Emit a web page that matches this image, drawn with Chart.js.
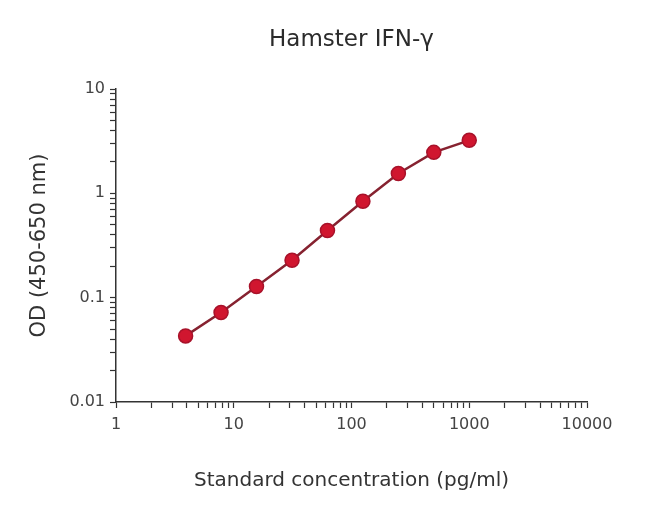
<!DOCTYPE html>
<html>
<head>
<meta charset="utf-8">
<script src="https://cdn.jsdelivr.net/npm/chart.js@4.4.1/dist/chart.umd.min.js"></script>
<style>
  body { margin: 0; background: #fff; }
  #wrap { width: 650px; height: 517px; }
</style>
</head>
<body>
<div id="wrap"><canvas id="chart" width="650" height="517"></canvas></div>
<script>
// standard curve values
const concentrations = [3.9, 7.8, 15.6, 31.25, 62.5, 125, 250, 500, 1000];
const odValues = [0.043, 0.072, 0.128, 0.228, 0.44, 0.84, 1.55, 2.47, 3.22];

const xTickLabels = [1, 10, 100, 1000, 10000];
const yTickLabels = [0.01, 0.1, 1, 10];
const minorSteps = [2, 3, 4, 5, 6, 7, 8, 9];

// decade ticks + minor ticks in between
const buildTicks = (majors) => {
    let out = [];
    majors.forEach((m, i) => {
        out.push({value: m, major: true});
        if (i < majors.length - 1) {
            minorSteps.forEach(s => out.push({value: m * s, major: false}));
        }
    });
    return out;
};

const fontFam = "'DejaVu Sans', sans-serif";
const inkColor = '#333';

const ctx = document.getElementById('chart');
const chart = new Chart(ctx, {
    type: 'line',
    data: {
        datasets: [{
            label: 'Hamster IFN-γ',
            data: concentrations.map((c, i) => ({x: c, y: odValues[i]})),
            borderColor: '#862230',
            borderWidth: 2.5,
            pointRadius: 7,
            pointHoverRadius: 7,
            pointBackgroundColor: '#d0162f',
            pointBorderColor: '#a8122a',
            pointBorderWidth: 1.5,
            tension: 0
        }]
    },
    options: {
        responsive: false,
        animation: false,
        layout: { padding: { left: 0, right: 63, top: 0, bottom: 0 } },
        plugins: {
            legend: { display: false },
            tooltip: { enabled: false },
            title: {
                display: true,
                text: 'Hamster IFN-γ',
                fullSize: false,
                color: '#2b2b2b',
                font: { family: fontFam, size: 23, weight: 'normal', lineHeight: 1.2 },
                padding: { top: 26, bottom: 35.4 }
            }
        },
        scales: {
            x: {
                type: 'logarithmic',
                min: 1,
                max: 10000,
                afterFit: s => { s.height = 115; },
                afterBuildTicks: s => { s.ticks = buildTicks(xTickLabels); },
                grid: {
                    drawOnChartArea: false,
                    drawTicks: true,
                    tickLength: 6,
                    tickColor: inkColor,
                    tickWidth: 1.2
                },
                border: { display: true, color: inkColor, width: 1.5 },
                ticks: {
                    autoSkip: false,
                    maxRotation: 0,
                    padding: 7,
                    color: '#444',
                    font: { family: fontFam, size: 16 },
                    callback: (v) => xTickLabels.includes(v) ? String(v) : ''
                },
                title: {
                    display: true,
                    text: 'Standard concentration (pg/ml)',
                    color: inkColor,
                    font: { family: fontFam, size: 20 },
                    padding: { top: 0, bottom: 24 }
                }
            },
            y: {
                type: 'logarithmic',
                min: 0.01,
                max: 10,
                afterFit: s => { s.width = 116; },
                afterBuildTicks: s => { s.ticks = buildTicks(yTickLabels); },
                grid: {
                    drawOnChartArea: false,
                    drawTicks: true,
                    tickLength: 6,
                    tickColor: inkColor,
                    tickWidth: 1.2
                },
                border: { display: true, color: inkColor, width: 1.5 },
                ticks: {
                    autoSkip: false,
                    padding: 5,
                    color: '#444',
                    font: { family: fontFam, size: 16 },
                    callback: (v) => yTickLabels.includes(v) ? String(v) : ''
                },
                title: {
                    display: true,
                    text: 'OD (450-650 nm)',
                    color: inkColor,
                    font: { family: fontFam, size: 21 },
                    padding: { top: 27, bottom: 0 }
                }
            }
        }
    }
});
</script>
</body>
</html>
